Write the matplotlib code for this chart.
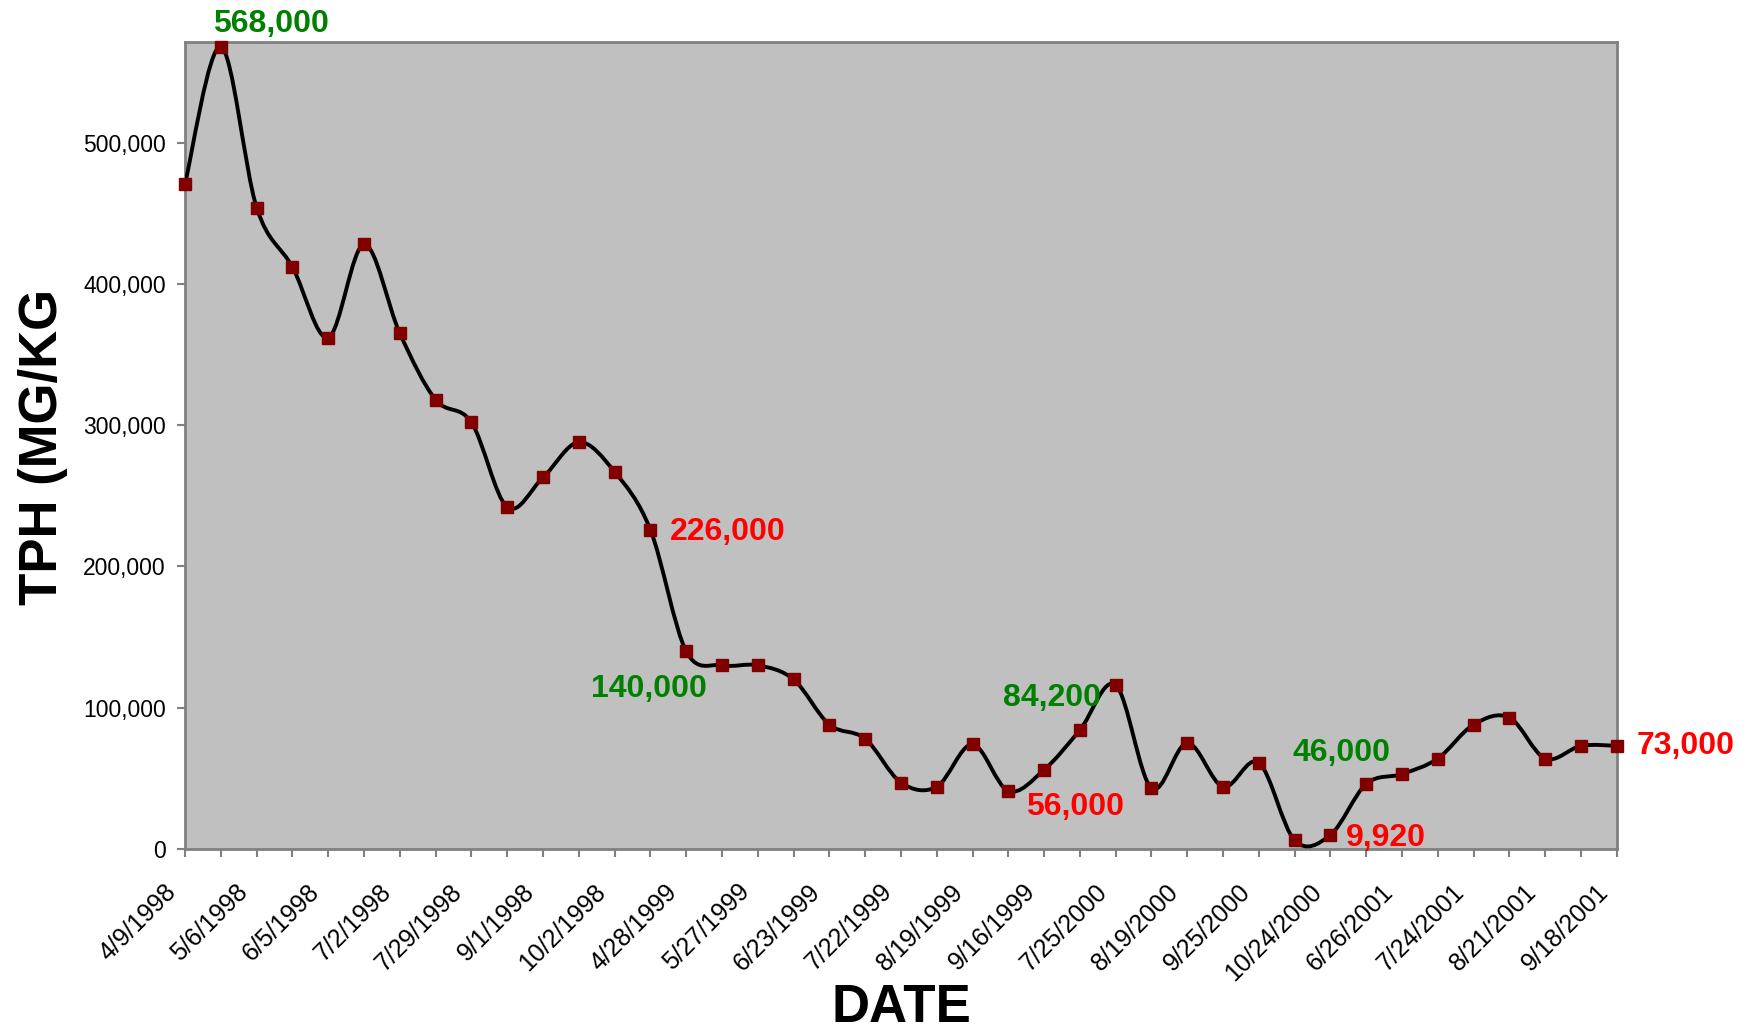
import numpy as np
import matplotlib
matplotlib.use("Agg")
import matplotlib.pyplot as plt
from matplotlib.path import Path
from matplotlib.patches import PathPatch
from matplotlib.ticker import FuncFormatter
from matplotlib.transforms import ScaledTranslation

plt.rcParams['font.family'] = ['Liberation Sans', 'DejaVu Sans']

# ---- data ----
tph_values = [471000, 568000, 454000, 412000, 362000, 428000, 365000, 318000,
              302000, 242000, 263000, 288000, 267000, 226000, 140000, 130000,
              130000, 120000, 88000, 78000, 47000, 44000, 74000, 41000,
              56000, 84200, 116000, 43000, 75000, 44000, 61000, 6000,
              9920, 46000, 53000, 64000, 88000, 93000, 64000, 73000, 73000]
date_labels = ["4/9/1998", "5/6/1998", "6/5/1998", "7/2/1998", "7/29/1998",
               "9/1/1998", "10/2/1998", "4/28/1999", "5/27/1999", "6/23/1999",
               "7/22/1999", "8/19/1999", "9/16/1999", "7/25/2000", "8/19/2000",
               "9/25/2000", "10/24/2000", "6/26/2001", "7/24/2001", "8/21/2001",
               "9/18/2001"]
y_ticks = [0, 100000, 200000, 300000, 400000, 500000]
# annotations: (index, text, colour, dx pt, dy pt, ha)
annotations = [
    (1, "568,000", "#008000", 36, 16, "center"),
    (13, "226,000", "#FF0000", 14, -1.5, "left"),
    (14, "140,000", "#008000", -27, -27, "center"),
    (25, "84,200", "#008000", -20, 23, "center"),
    (24, "56,000", "#FF0000", 22, -27, "center"),
    (33, "46,000", "#008000", -18, 22, "center"),
    (32, "9,920", "#FF0000", 40, -2, "center"),
    (40, "73,000", "#FF0000", 14, 0, "left"),
]

x = np.arange(len(tph_values), dtype=float)
y = np.array(tph_values, dtype=float)

fig = plt.figure(figsize=(17.46, 10.34), dpi=100)
ax = fig.add_axes([0.106, 0.179, 0.820, 0.780])
ax.set_facecolor("#C0C0C0")

# smoothed line (cubic Bezier through the points, like Excel smoothing)
pts = np.column_stack([x, y])
ext = np.vstack([pts[0], pts, pts[-1]])
verts = [tuple(pts[0])]
codes = [Path.MOVETO]
for i in range(len(pts) - 1):
    p0, p1, p2, p3 = ext[i], ext[i + 1], ext[i + 2], ext[i + 3]
    c1 = p1 + (p2 - p0) / 6.0
    c2 = p2 - (p3 - p1) / 6.0
    verts += [tuple(c1), tuple(c2), tuple(p2)]
    codes += [Path.CURVE4, Path.CURVE4, Path.CURVE4]
patch = PathPatch(Path(verts, codes), facecolor="none", edgecolor="black",
                  lw=2.8, zorder=3, capstyle="round", joinstyle="round")
ax.add_patch(patch)

ax.plot(x, y, linestyle="none", marker="s", markersize=8,
        markerfacecolor="#800000", markeredgecolor="#800000", zorder=4,
        clip_on=False)

ax.set_xlim(0, len(tph_values) - 1)
ax.set_ylim(0, 571000)

ax.set_yticks(y_ticks)
ax.yaxis.set_major_formatter(FuncFormatter(lambda v, p: f"{int(v):,}"))
ax.set_xticks(np.arange(0, len(tph_values), 2))
ax.set_xticklabels(date_labels, rotation=45, ha="right", rotation_mode="anchor")
ax.set_xticks(np.arange(1, len(tph_values), 2), minor=True)

ax.tick_params(axis="both", which="both", direction="out", length=6,
               width=1.5, color="#808080", labelcolor="black")
ax.tick_params(axis="y", pad=8, labelsize=16.5)
ax.tick_params(axis="x", pad=16, labelsize=18)

shift = ScaledTranslation(-0.21, 0, fig.dpi_scale_trans)
for lab in ax.get_xticklabels():
    lab.set_transform(lab.get_transform() + shift)

for s in ax.spines.values():
    s.set_color("#808080")
    s.set_linewidth(2)

ax.set_xlabel("DATE", fontsize=38, fontweight="bold", va="center")
ax.xaxis.set_label_coords(0.5, -0.197)
ax.set_ylabel("TPH (MG/KG", fontsize=38, fontweight="bold", va="center")
ax.yaxis.set_label_coords(-0.0995, 0.4988)

for idx, txt, col, dx, dy, ha in annotations:
    ax.annotate(txt, xy=(x[idx], y[idx]), xytext=(dx, dy),
                textcoords="offset points", ha=ha, va="center",
                color=col, fontsize=23, fontweight="bold", zorder=5,
                annotation_clip=False)

fig.savefig("out.png", dpi=100, facecolor="white")
